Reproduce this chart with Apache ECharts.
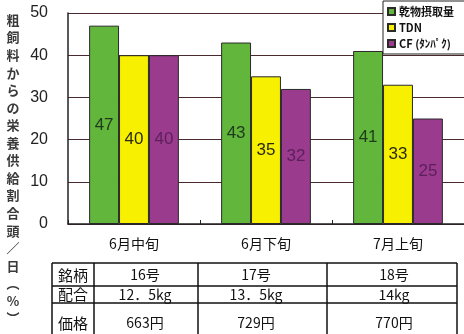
<!DOCTYPE html>
<html>
<head>
<meta charset="utf-8">
<style>
  html, body { margin: 0; padding: 0; background: #fff; }
  #chart { width: 464px; height: 334px; }
</style>
<script src="https://cdn.jsdelivr.net/npm/echarts@6/dist/echarts.min.js"></script>
</head>
<body>
<div id="chart"></div>
<script>
// Periods on the x axis
const categories = ['6月中旬', '6月下旬', '7月上旬'];
// Share supplied from roughage (%), per series
const seriesNames = ['乾物摂取量', 'TDN', 'CF (ﾀﾝﾊﾟｸ)'];
const dryMatter = [47, 43, 41];
const tdn = [40, 35, 33];
const cf = [40, 32, 25];
// Value axis ticks
const yTicks = [0, 10, 20, 30, 40, 50];
// Vertical axis title, one character per line
const yTitle = ['粗','飼','料','か','ら','の','栄','養','供','給','割','合','頭','／','日','︵','%','︶'];
// Feed table under the chart
const tableHead = ['銘柄', '16号', '17号', '18号'];
const tableMix = ['配合', '12．5kg', '13．5kg', '14kg'];
const tablePrice = ['価格', '663円', '729円', '770円'];

const colors = ['#63b63c', '#f7f000', '#9a3b8e'];
const labelColors = ['#1e3a1a', '#2a2a10', '#5c1f5a'];
const seriesData = [dryMatter, tdn, cf];

const chart = echarts.init(document.getElementById('chart'), null, { renderer: 'canvas' });

const numFont = '"Liberation Sans Narrow", "Liberation Sans", Arial, sans-serif';
const jpFont = '"Noto Sans CJK JP", "Noto Sans", sans-serif';

// Table grid lines and cell texts
const colX = [52, 94, 198, 327, 457];
const rowY = [263, 286, 303, 340];
const tableRows = [tableHead, tableMix, tablePrice];
const tableEls = [];
colX.forEach(x => {
  tableEls.push({ type: 'line', shape: { x1: x, y1: rowY[0], x2: x, y2: rowY[3] }, style: { stroke: '#111', lineWidth: 1.5 } });
});
rowY.forEach(y => {
  tableEls.push({ type: 'line', shape: { x1: colX[0], y1: y, x2: colX[4], y2: y }, style: { stroke: '#111', lineWidth: 1.5 } });
});
const cellCenters = [73, 145, 256, 394];
const rowCenters = [275, 294.5, 323];
tableRows.forEach((row, r) => {
  row.forEach((txt, c) => {
    tableEls.push({
      type: 'text',
      x: cellCenters[c], y: rowCenters[r],
      style: {
        text: txt, fill: '#111', align: 'center', verticalAlign: 'middle',
        font: (c === 0 ? '15px ' : '14px ') + jpFont
      }
    });
  });
});

// Vertical axis title characters, stacked top to bottom
const titleEls = yTitle.map((ch, i) => ({
  type: 'text',
  x: 13, y: 20 + i * 17.55,
  style: {
    text: ch, fill: '#3a3a3a', align: 'center', verticalAlign: 'middle',
    font: 'bold 13px ' + jpFont
  }
}));

const option = {
  backgroundColor: '#fff',
  animation: false,
  grid: { left: 68, right: -4, top: 13, bottom: 110, containLabel: false },
  legend: {
    data: seriesNames,
    orient: 'vertical',
    left: 383, top: 1,
    itemWidth: 7, itemHeight: 7, itemGap: 5,
    padding: [5, 20, 5, 4],
    backgroundColor: '#fff',
    borderColor: '#222', borderWidth: 1,
    borderRadius: 0,
    icon: 'rect',
    textStyle: { fontSize: 11, color: '#111', fontWeight: 'bold', fontFamily: jpFont, padding: [0, 0, 0, -1] },
    z: 10
  },
  xAxis: {
    type: 'category',
    data: categories,
    axisLine: { lineStyle: { color: '#222', width: 1.5 } },
    axisTick: { show: true, inside: true, length: 4, lineStyle: { color: '#222' } },
    axisLabel: { fontSize: 14, color: '#111', margin: 13, fontFamily: jpFont }
  },
  yAxis: {
    type: 'value',
    min: yTicks[0], max: yTicks[yTicks.length - 1], interval: 10,
    axisLine: { show: true, lineStyle: { color: '#222', width: 1.5 } },
    axisTick: { show: false },
    splitLine: { show: true, lineStyle: { color: '#4a2a2e', width: 1.2 } },
    axisLabel: { fontSize: 16, color: '#222', margin: 20, fontFamily: numFont }
  },
  series: seriesNames.map((name, i) => ({
    name,
    type: 'bar',
    data: seriesData[i],
    barGap: '0%',
    barCategoryGap: '32%',
    itemStyle: { color: colors[i], borderColor: '#2a2a2a', borderWidth: 1 },
    label: {
      show: true, position: 'inside',
      fontSize: 17, color: labelColors[i], fontFamily: numFont
    }
  })),
  graphic: [
    { type: 'group', children: titleEls },
    { type: 'group', children: tableEls }
  ]
};

chart.setOption(option);
</script>
</body>
</html>
